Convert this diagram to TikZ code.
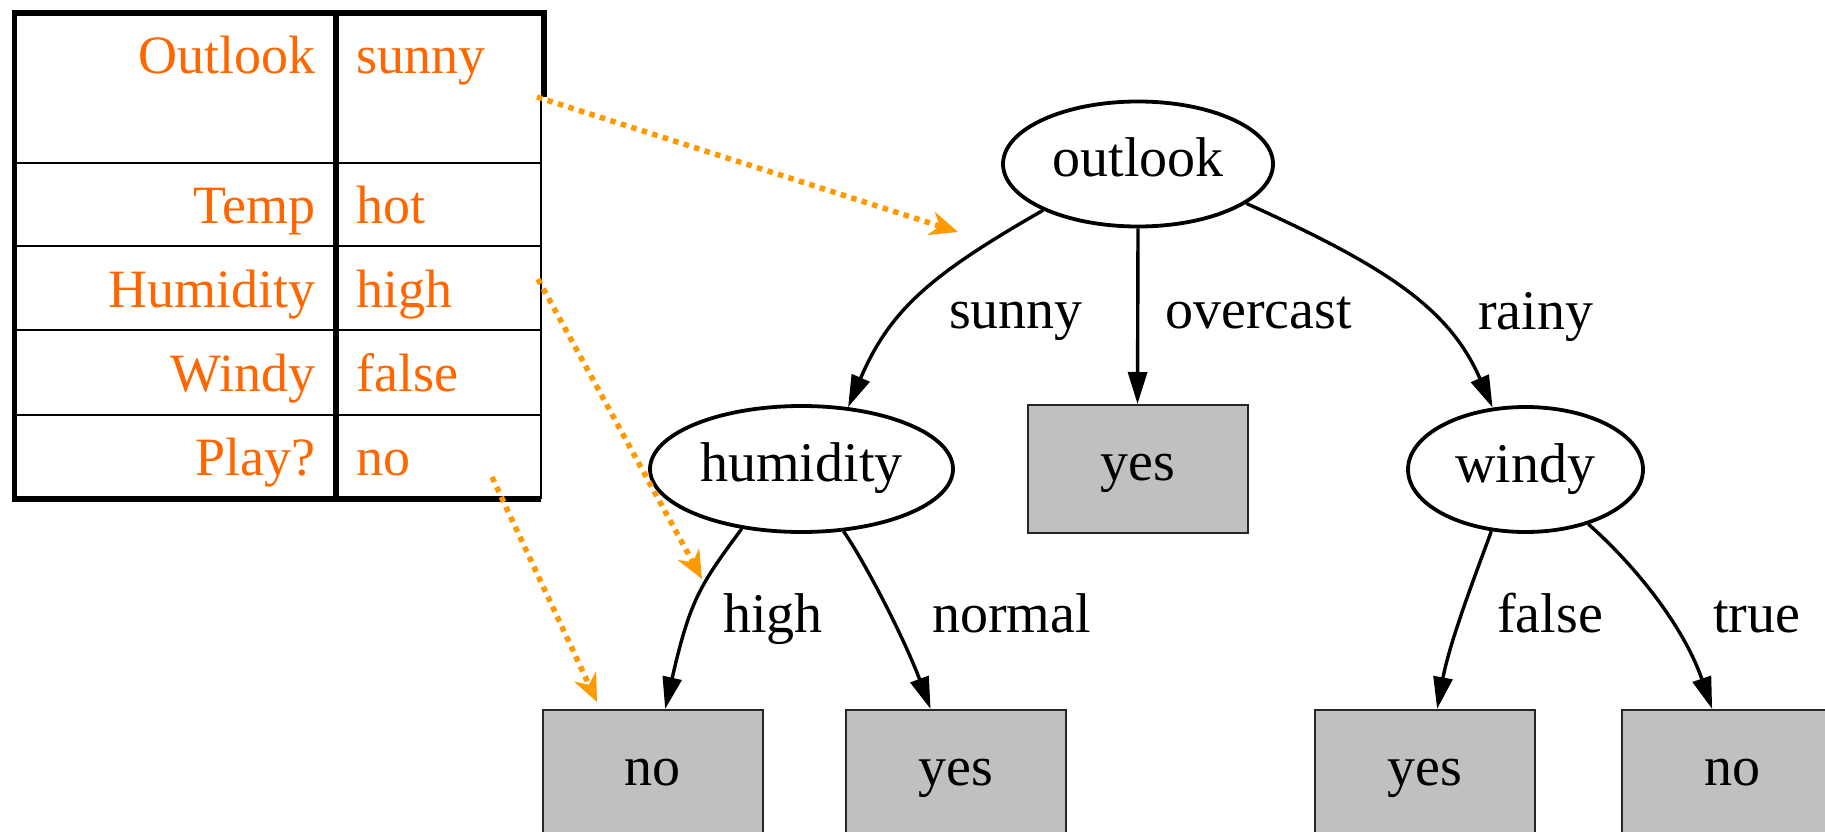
\documentclass[tikz,border=0pt]{standalone}
\usepackage{fontspec}
\setmainfont{Liberation Serif}
\usetikzlibrary{shapes.geometric,arrows.meta}
\definecolor{attrorange}{RGB}{255,102,0}
\definecolor{traceorange}{RGB}{255,153,0}
\definecolor{leafgray}{RGB}{192,192,192}

\begin{document}
\begin{tikzpicture}[x=1pt,y=-1pt,line join=miter,
  test/.style={ellipse,draw,line width=3.8pt,inner sep=0pt,font=\fontsize{56}{60}\selectfont,text height=36pt,text depth=11pt},
  leaf/.style={rectangle,draw=black!85,fill=leafgray,line width=2pt,minimum width=220pt,minimum height=128pt,inner sep=0pt,font=\fontsize{56}{60}\selectfont,text height=36pt,text depth=14pt},
  treeedge/.style={line width=3.4pt,-{Triangle[length=32pt,width=19pt]}},
  branchlabel/.style={anchor=base west,inner sep=0pt,font=\fontsize{56}{60}\selectfont},
  cellname/.style={anchor=base east,inner sep=0pt,text=attrorange,font=\fontsize{54}{58}\selectfont},
  cellvalue/.style={anchor=base west,inner sep=0pt,text=attrorange,font=\fontsize{54}{58}\selectfont},
  trace/.style={traceorange,line width=5.5pt,dash pattern=on 5.5pt off 5.5pt,-{Stealth[length=28pt,width=24pt,inset=9pt]}}]
\useasboundingbox (0,0) rectangle (1825,832);

\draw[line width=5.5pt] (544,97) -- (544,13) -- (14.5,13) -- (14.5,499) -- (541,499);
\draw[line width=1.8pt] (541,97) -- (541,499);
\draw[line width=5.5pt] (336,13) -- (336,499);
\foreach \y in {163,246,330,415}
  \draw[line width=2.8pt] (14.5,\y) -- (541,\y);

\node[cellname] (nOutlook) at (316,74) {Outlook};
\node[cellvalue] (vOutlook) at (356,74) {sunny};
\node[cellname] (nTemp) at (316,223) {Temp};
\node[cellvalue] (vTemp) at (356,223) {hot};
\node[cellname] (nHumidity) at (316,307) {Humidity};
\node[cellvalue] (vHumidity) at (356,307) {high};
\node[cellname] (nWindy) at (316,391) {Windy};
\node[cellvalue] (vWindy) at (356,391) {false};
\node[cellname] (nPlay) at (316,475) {Play?};
\node[cellvalue] (vPlay) at (356,475) {no};

\node[test,minimum width=270pt,minimum height=125pt] (outlook) at (1138,164) {outlook};
\node[test,minimum width=303pt,minimum height=126pt] (humidity) at (801.5,469) {humidity};
\node[test,minimum width=235pt,minimum height=125pt] (windy) at (1525.5,469.5) {windy};
\node[leaf] (overcastyes) at (1137.5,469) {yes};
\node[leaf] (highno) at (652.5,774) {no};
\node[leaf] (normalyes) at (955.5,774) {yes};
\node[leaf] (falseyes) at (1424.5,774) {yes};
\node[leaf] (trueno) at (1732,774) {no};

\draw[treeedge] (outlook.206) .. controls (930,275) and (890,310) .. (humidity.53);
\draw[treeedge] (outlook.south) -- (overcastyes.north);
\draw[treeedge] (outlook.340) .. controls (1390,268) and (1450,310) .. (windy.118);
\draw[treeedge] (humidity.225) .. controls (700,585) and (690,600) .. (highno.79);
\draw[treeedge] (humidity.304) .. controls (865,562) and (905,640) .. (normalyes.111);
\draw[treeedge] (windy.241) .. controls (1478,568) and (1450,640) .. (falseyes.79);
\draw[treeedge] (windy.319) .. controls (1640,570) and (1685,630) .. (trueno.107);

\node[branchlabel] (lSunny) at (949,328) {sunny};
\node[branchlabel] (lOvercast) at (1165,328) {overcast};
\node[branchlabel] (lRainy) at (1478,329) {rainy};
\node[branchlabel] (lHigh) at (723,632) {high};
\node[branchlabel] (lNormal) at (932,632) {normal};
\node[branchlabel] (lFalse) at (1497,632) {false};
\node[branchlabel] (lTrue) at (1713,632) {true};

\coordinate (sunnyout) at (537,97);
\coordinate (sunnyin) at (958,232);
\coordinate (highout) at (538,279);
\coordinate (highin) at (702,579);
\coordinate (playout) at (492,477);
\coordinate (playin) at (597,702);
\draw[trace] (sunnyout) -- (sunnyin);
\draw[trace] (highout) -- (highin);
\draw[trace] (playout) -- (playin);
\end{tikzpicture}
\end{document}
